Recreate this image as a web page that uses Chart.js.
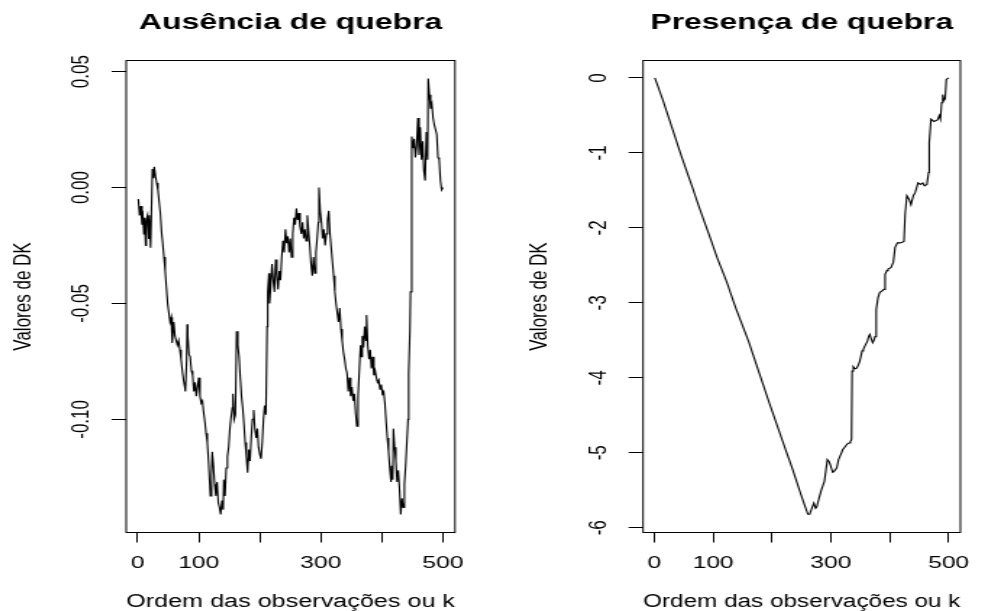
<!DOCTYPE html>
<html>
<head>
<meta charset="utf-8">
<script src="https://cdn.jsdelivr.net/npm/chart.js@4.4.1/dist/chart.umd.min.js"></script>
<style>
html,body{margin:0;padding:0;background:#fff;overflow:hidden;width:985px;height:611px}
canvas{position:absolute;top:0}
</style>
</head>
<body>
<canvas id="cL" width="340" height="611" style="left:0px;width:493px;height:611px"></canvas>
<canvas id="cR" width="340" height="611" style="left:493px;width:492px;height:611px"></canvas>
<script>
// ---- Data ----
const titleL = 'Ausência de quebra';
const titleR = 'Presença de quebra';
const xTitle = 'Ordem das observações ou k';
const yTitle = 'Valores de DK';

const xTicks = [0, 100, 200, 300, 400, 500];
const xTickLabels = ['0', '100', '', '300', '', '500'];

const yTicksL = [-0.10, -0.05, 0.00, 0.05];
const yTickLabelsL = ['-0.10', '-0.05', '0.00', '0.05'];
const yTicksR = [-6, -5, -4, -3, -2, -1, 0];
const yTickLabelsR = ['-6', '-5', '-4', '-3', '-2', '-1', '0'];

// Left panel: no break
const obsL = [1,3,5,7,8,10,11,13,14,16,18,19,21,22,24,26,27,29,31,33,35,37,39,41,43,45,47,49,51,53,55,56,57,59,61,63,65,67,69,71,73,75,77,78,80,81,82,84,86,88,90,92,94,96,98,100,102,104,106,108,110,112,114,116,118,119,121,122,124,126,128,130,132,134,136,138,140,141,143,145,147,149,151,153,155,156,158,160,162,164,166,168,170,172,174,176,178,180,182,184,186,188,190,192,194,196,198,200,202,204,206,208,210,212,213,215,216,218,220,222,224,226,228,230,232,234,236,238,240,242,244,246,248,250,252,254,256,258,260,262,264,266,268,270,272,274,276,278,280,282,284,286,288,290,292,294,296,297,299,301,303,305,307,309,311,313,315,317,319,321,323,325,327,329,331,333,335,337,339,341,343,345,347,349,351,353,355,357,359,361,363,365,366,368,370,372,374,375,377,379,381,383,385,387,389,391,393,395,397,399,401,403,405,407,409,411,413,415,416,418,419,421,423,425,427,429,431,433,435,437,439,441,443,444,446,447,449,451,453,455,457,459,461,463,465,467,469,471,473,475,476,478,480,482,484,486,488,490,492,494,496,498,500];
const dkL = [-0.005,-0.012,-0.008,-0.016,-0.010,-0.020,-0.013,-0.025,-0.014,-0.012,-0.022,-0.012,-0.026,-0.015,0.008,0.004,0.009,0.005,0.002,-0.001,-0.006,-0.011,-0.019,-0.024,-0.030,-0.036,-0.043,-0.050,-0.054,-0.058,-0.056,-0.063,-0.067,-0.058,-0.064,-0.066,-0.068,-0.066,-0.070,-0.074,-0.079,-0.083,-0.086,-0.088,-0.075,-0.059,-0.064,-0.072,-0.073,-0.079,-0.081,-0.088,-0.084,-0.090,-0.086,-0.082,-0.090,-0.093,-0.092,-0.097,-0.101,-0.106,-0.110,-0.118,-0.128,-0.133,-0.124,-0.114,-0.120,-0.128,-0.133,-0.127,-0.136,-0.138,-0.141,-0.135,-0.139,-0.126,-0.133,-0.121,-0.116,-0.112,-0.104,-0.099,-0.095,-0.089,-0.100,-0.098,-0.062,-0.068,-0.073,-0.082,-0.090,-0.095,-0.102,-0.110,-0.116,-0.123,-0.113,-0.118,-0.108,-0.100,-0.096,-0.104,-0.108,-0.104,-0.112,-0.115,-0.117,-0.110,-0.100,-0.094,-0.098,-0.060,-0.045,-0.037,-0.050,-0.042,-0.033,-0.040,-0.045,-0.031,-0.038,-0.044,-0.036,-0.040,-0.030,-0.023,-0.028,-0.018,-0.024,-0.021,-0.028,-0.022,-0.030,-0.020,-0.013,-0.016,-0.009,-0.014,-0.011,-0.017,-0.020,-0.015,-0.022,-0.018,-0.023,-0.012,-0.019,-0.025,-0.033,-0.038,-0.030,-0.037,-0.028,-0.022,-0.015,0.000,-0.010,-0.015,-0.022,-0.018,-0.025,-0.020,-0.014,-0.010,-0.020,-0.026,-0.032,-0.038,-0.045,-0.050,-0.054,-0.058,-0.052,-0.061,-0.066,-0.071,-0.074,-0.078,-0.080,-0.088,-0.082,-0.090,-0.086,-0.092,-0.089,-0.097,-0.103,-0.090,-0.079,-0.068,-0.073,-0.064,-0.069,-0.060,-0.066,-0.055,-0.068,-0.074,-0.070,-0.078,-0.073,-0.081,-0.079,-0.082,-0.084,-0.083,-0.087,-0.085,-0.089,-0.088,-0.093,-0.101,-0.108,-0.114,-0.121,-0.127,-0.120,-0.126,-0.104,-0.112,-0.118,-0.127,-0.122,-0.130,-0.141,-0.134,-0.138,-0.128,-0.120,-0.110,-0.100,-0.080,-0.062,-0.045,0.022,0.017,0.021,0.013,0.018,0.030,0.014,0.026,0.012,0.020,0.007,0.003,0.024,0.012,0.047,0.040,0.034,0.036,0.030,0.027,0.025,0.023,0.013,0.012,0.003,-0.001,0.000];

// Right panel: with break
const obsR = [1,14,30,46,63,77,93,107,123,139,161,178,197,216,235,248,256,261,264,268,271,274,276,280,284,289,294,297,299,303,305,310,313,317,320,323,325,328,331,333,335,336,338,341,344,347,349,353,355,358,362,364,366,369,371,373,375,377,380,383,387,390,392,395,397,402,406,409,413,417,421,424,426,429,433,436,440,443,448,452,456,459,463,466,467,470,475,481,484,486,488,490,492,494,496,500];
const dkR = [0.00,-0.28,-0.66,-1.04,-1.42,-1.74,-2.09,-2.40,-2.72,-3.08,-3.53,-3.93,-4.37,-4.80,-5.22,-5.53,-5.71,-5.82,-5.82,-5.73,-5.67,-5.74,-5.72,-5.60,-5.49,-5.38,-5.09,-5.12,-5.16,-5.26,-5.25,-5.20,-5.09,-5.02,-4.96,-4.93,-4.91,-4.88,-4.87,-4.85,-4.82,-3.91,-3.85,-3.88,-3.87,-3.82,-3.78,-3.64,-3.62,-3.57,-3.51,-3.45,-3.42,-3.49,-3.53,-3.50,-3.45,-3.09,-2.93,-2.86,-2.84,-2.82,-2.62,-2.57,-2.55,-2.53,-2.46,-2.26,-2.20,-2.20,-2.19,-2.18,-1.82,-1.57,-1.62,-1.69,-1.57,-1.53,-1.40,-1.42,-1.40,-1.44,-1.42,-1.26,-0.86,-0.55,-0.58,-0.56,-0.50,-0.55,-0.33,-0.22,-0.30,-0.28,-0.02,0.00];

// ---- Chart construction ----
const FONT = '"Liberation Sans", Arial, Helvetica, sans-serif';

const boxPlugin = {
  id: 'rbox',
  afterDraw(chart) {
    const a = chart.chartArea, ctx = chart.ctx;
    ctx.save();
    ctx.strokeStyle = '#000';
    ctx.lineWidth = 1;
    ctx.strokeRect(a.left, a.top, a.right - a.left, a.bottom - a.top);
    ctx.restore();
  }
};

function makeChart(canvasId, xs, ys, title, yTicks, yLabels, yMin, yMax, padL, padR, yTickPad) {
  const gridOpts = { display: true, drawOnChartArea: false, drawTicks: true, tickLength: 10, tickColor: '#000', tickWidth: 1 };
  return new Chart(document.getElementById(canvasId), {
    type: 'line',
    data: {
      datasets: [{
        data: xs.map((x, i) => ({ x: x, y: ys[i] })),
        borderColor: '#000',
        borderWidth: 1.1,
        pointRadius: 0,
        fill: false,
        tension: 0
      }]
    },
    options: {
      responsive: false,
      animation: false,
      devicePixelRatio: 1,
      layout: { padding: { left: padL, right: padR, top: 0, bottom: 0 } },
      plugins: {
        legend: { display: false },
        tooltip: { enabled: false },
        title: {
          display: true, text: title, fullSize: false, color: '#000',
          font: { family: FONT, size: 22, weight: 'bold', lineHeight: 1.2 },
          padding: { top: 9.3, bottom: 24.8 }
        }
      },
      scales: {
        x: {
          type: 'linear', min: -18.96, max: 519.96,
          afterBuildTicks: s => { s.ticks = xTicks.map(v => ({ value: v })); },
          afterFit: s => { s.height = 78.5; },
          ticks: { autoSkip: false, minRotation: 0, maxRotation: 0, padding: 10.3, color: '#000',
                   font: { family: FONT, size: 17 }, callback: (v, i) => xTickLabels[i] },
          grid: gridOpts,
          border: { display: false },
          title: { display: true, text: xTitle, color: '#000',
                   font: { family: FONT, size: 18, lineHeight: 1 }, padding: { top: 0, bottom: 0 } }
        },
        y: {
          type: 'linear', min: yMin, max: yMax,
          afterBuildTicks: s => { s.ticks = yTicks.map(v => ({ value: v })); },
          afterFit: s => { s.width = 87; },
          ticks: { autoSkip: false, minRotation: 90, maxRotation: 90, crossAlign: 'center',
                   padding: yTickPad, color: '#000', font: { family: FONT, size: 17 },
                   callback: (v, i) => yLabels[i] },
          grid: gridOpts,
          border: { display: false },
          title: { display: true, text: yTitle, color: '#000',
                   font: { family: FONT, size: 17, lineHeight: 1.2 }, padding: { top: 5.7, bottom: 0 } }
        }
      }
    },
    plugins: [boxPlugin]
  });
}

makeChart('cL', obsL, dkL, titleL, yTicksL, yTickLabelsL, -0.1488, 0.0548, 0, 26.2, 1.3);
makeChart('cR', obsR, dkR, titleR, yTicksR, yTickLabelsR, -6.063, 0.233, 16.7, 9.0, 13.1);
</script>
</body>
</html>
